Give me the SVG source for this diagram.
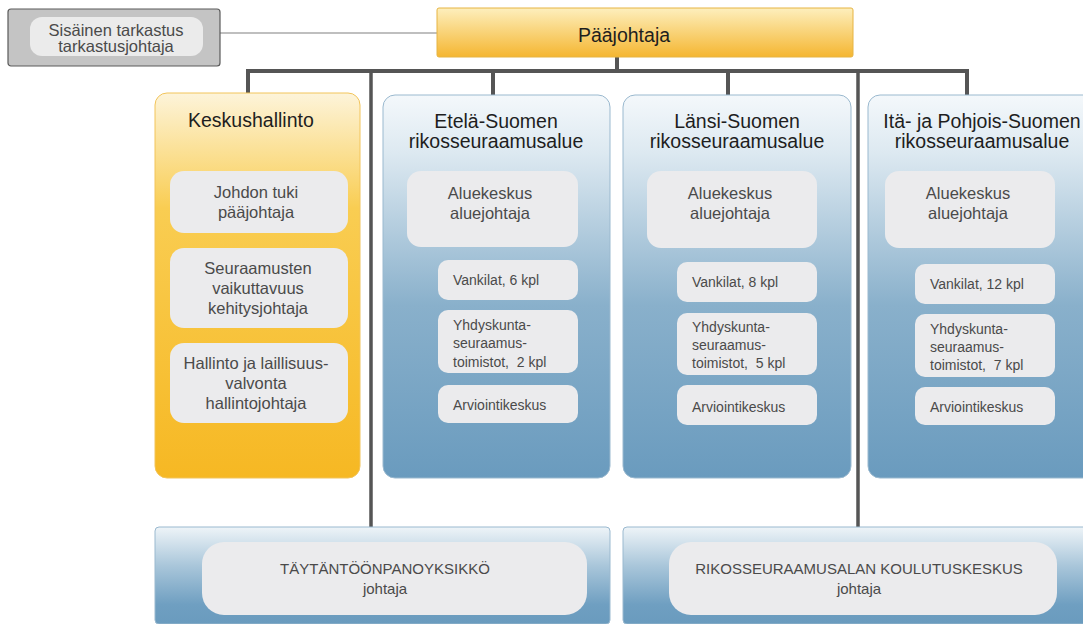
<svg xmlns="http://www.w3.org/2000/svg" width="1083" height="624" viewBox="0 0 1083 624">
<defs>
<linearGradient id="gYel" x1="0" y1="0" x2="0" y2="1">
<stop offset="0" stop-color="#fdf4da"/>
<stop offset="0.3" stop-color="#f9cd52"/>
<stop offset="1" stop-color="#f6b823"/>
</linearGradient>
<linearGradient id="gTop" x1="0" y1="0" x2="0" y2="1">
<stop offset="0" stop-color="#fdefbd"/>
<stop offset="1" stop-color="#f5b631"/>
</linearGradient>
<linearGradient id="gBlue" x1="0" y1="0" x2="0" y2="1">
<stop offset="0" stop-color="#f4f8fb"/>
<stop offset="0.15" stop-color="#dde9f1"/>
<stop offset="0.55" stop-color="#89b0cb"/>
<stop offset="1" stop-color="#6a9bbe"/>
</linearGradient>
<linearGradient id="gBot" x1="0" y1="0" x2="0" y2="1">
<stop offset="0" stop-color="#eef4f8"/>
<stop offset="0.4" stop-color="#a9c6da"/>
<stop offset="0.8" stop-color="#6f9fc1"/>
<stop offset="1" stop-color="#6a9bbe"/>
</linearGradient>
</defs>
<style>
text{font-family:"Liberation Sans",Arial,sans-serif;text-anchor:middle}
.title{font-size:19.5px;fill:#1e1e1e}
.inner{fill:#ebebed}
.t16{font-size:16.5px;fill:#4a4a4a}
.t14{font-size:14px;fill:#4a4a4a;text-anchor:start}
.t15{font-size:15px;fill:#4a4a4a}
.blue{fill:url(#gBlue);stroke:#9ab9cf;stroke-width:1}
.bot{fill:url(#gBot);stroke:#9ab9cf;stroke-width:1}
.conn{stroke:#555;stroke-width:4;fill:none}
.thin{stroke:#555;stroke-width:3.5;fill:none}
</style>

<g id="connectors">
<line x1="220" y1="33" x2="437" y2="33" stroke="#aaa" stroke-width="1.5"/>
<polyline class="conn" points="248,95 248,71 967,71 967,95"/>
<line class="conn" x1="617" y1="57" x2="617" y2="71"/>
<line class="conn" x1="493" y1="71" x2="493" y2="95"/>
<line class="conn" x1="728" y1="71" x2="728" y2="95"/>
<line class="thin" x1="371" y1="71" x2="371" y2="527"/>
<line class="thin" x1="858" y1="71" x2="858" y2="527"/>
<path class="conn" d="M419,247 V405 H438 M419,280 H438 M419,343 H438"/>
<path class="conn" d="M658,248 V407 H677 M658,282 H677 M658,345 H677"/>
<path class="conn" d="M895,248 V407 H915 M895,284 H915 M895,346 H915"/>
</g>

<g id="sisainen">
<rect x="8" y="9" width="212" height="57" rx="3" fill="#c4c4c4" stroke="#5a5a5a" stroke-width="1.2"/>
<rect x="30" y="17" width="173" height="39" rx="12" fill="#ebebeb"/>
<text class="t16" x="116" y="36">Sisäinen tarkastus</text>
<text class="t16" x="116" y="52">tarkastusjohtaja</text>
</g>

<g id="paajohtaja">
<rect x="437" y="8" width="416" height="49" rx="2" fill="url(#gTop)" stroke="#e6b443" stroke-width="1"/>
<text class="title" x="624" y="42">Pääjohtaja</text>
</g>

<g id="keskushallinto">
<rect x="155" y="93" width="205" height="385" rx="12" fill="url(#gYel)" stroke="#f2c45a" stroke-width="1"/>
<text class="title" x="188" y="127" style="text-anchor:start">Keskushallinto</text>
<rect class="inner" x="170" y="171" width="178" height="62" rx="14"/>
<text class="t16" x="256" y="198">Johdon tuki</text>
<text class="t16" x="256" y="218">pääjohtaja</text>
<rect class="inner" x="170" y="248" width="178" height="80" rx="14"/>
<text class="t16" x="258" y="274">Seuraamusten</text>
<text class="t16" x="258" y="294">vaikuttavuus</text>
<text class="t16" x="258" y="314">kehitysjohtaja</text>
<rect class="inner" x="170" y="343" width="178" height="80" rx="14"/>
<text class="t16" x="256" y="369">Hallinto ja laillisuus-</text>
<text class="t16" x="256" y="389">valvonta</text>
<text class="t16" x="256" y="409">hallintojohtaja</text>
</g>

<g id="etela">
<rect class="blue" x="383" y="95" width="227" height="383" rx="12"/>
<text class="title" x="496" y="128">Etelä-Suomen</text>
<text class="title" x="496" y="148">rikosseuraamusalue</text>
<rect class="inner" x="407" y="171" width="171" height="76" rx="14"/>
<text class="t16" x="490" y="199">Aluekeskus</text>
<text class="t16" x="490" y="219">aluejohtaja</text>
<rect class="inner" x="438" y="260" width="140" height="40" rx="10"/>
<text class="t14" x="453" y="285">Vankilat, 6 kpl</text>
<rect class="inner" x="438" y="310" width="140" height="63" rx="10"/>
<text class="t14" x="453" y="330">Yhdyskunta-</text>
<text class="t14" x="453" y="348">seuraamus-</text>
<text class="t14" x="453" y="367">toimistot,&#160; 2 kpl</text>
<rect class="inner" x="438" y="385" width="140" height="38" rx="10"/>
<text class="t14" x="453" y="410">Arviointikeskus</text>
</g>

<g id="lansi">
<rect class="blue" x="623" y="95" width="228" height="383" rx="12"/>
<text class="title" x="737" y="128">Länsi-Suomen</text>
<text class="title" x="737" y="148">rikosseuraamusalue</text>
<rect class="inner" x="647" y="171" width="170" height="77" rx="14"/>
<text class="t16" x="730" y="199">Aluekeskus</text>
<text class="t16" x="730" y="219">aluejohtaja</text>
<rect class="inner" x="677" y="262" width="140" height="40" rx="10"/>
<text class="t14" x="692" y="287">Vankilat, 8 kpl</text>
<rect class="inner" x="677" y="313" width="140" height="62" rx="10"/>
<text class="t14" x="692" y="332">Yhdyskunta-</text>
<text class="t14" x="692" y="350">seuraamus-</text>
<text class="t14" x="692" y="368">toimistot,&#160; 5 kpl</text>
<rect class="inner" x="677" y="385" width="140" height="40" rx="10"/>
<text class="t14" x="692" y="412">Arviointikeskus</text>
</g>

<g id="ita">
<rect class="blue" x="868" y="95" width="228" height="383" rx="12"/>
<text class="title" x="982" y="128">Itä- ja Pohjois-Suomen</text>
<text class="title" x="982" y="148">rikosseuraamusalue</text>
<rect class="inner" x="885" y="171" width="170" height="77" rx="14"/>
<text class="t16" x="968" y="199">Aluekeskus</text>
<text class="t16" x="968" y="219">aluejohtaja</text>
<rect class="inner" x="915" y="264" width="140" height="40" rx="10"/>
<text class="t14" x="930" y="289">Vankilat, 12 kpl</text>
<rect class="inner" x="915" y="314" width="140" height="63" rx="10"/>
<text class="t14" x="930" y="334">Yhdyskunta-</text>
<text class="t14" x="930" y="352">seuraamus-</text>
<text class="t14" x="930" y="370">toimistot,&#160; 7 kpl</text>
<rect class="inner" x="915" y="387" width="140" height="38" rx="10"/>
<text class="t14" x="930" y="412">Arviointikeskus</text>
</g>

<g id="taytantoonpano">
<rect class="bot" x="155" y="527" width="455" height="97" rx="4"/>
<rect class="inner" x="202" y="542" width="385" height="73" rx="22"/>
<text class="t15" x="385" y="574">TÄYTÄNTÖÖNPANOYKSIKKÖ</text>
<text class="t15" x="385" y="594">johtaja</text>
</g>

<g id="koulutuskeskus">
<rect class="bot" x="623" y="527" width="473" height="97" rx="4"/>
<rect class="inner" x="669" y="542" width="388" height="73" rx="22"/>
<text class="t15" x="859" y="574">RIKOSSEURAAMUSALAN KOULUTUSKESKUS</text>
<text class="t15" x="859" y="594">johtaja</text>
</g>
</svg>
